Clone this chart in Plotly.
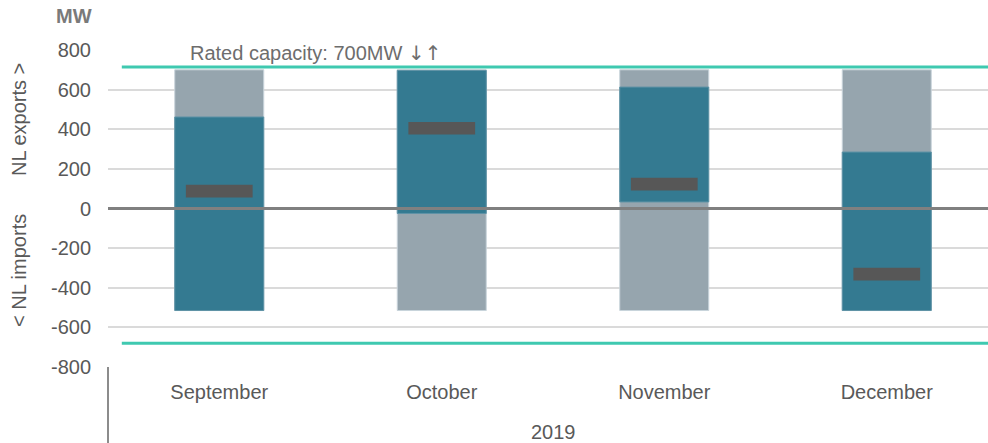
import plotly.graph_objects as go

# Monthly interconnector flow ranges (MW); positive = NL exports, negative = NL imports
months = ["September", "October", "November", "December"]
year_label = "2019"

full_low = [-515, -515, -515, -515]
full_high = [700, 700, 700, 700]
core_low = [-515, -25, 33, -515]
core_high = [462, 697, 613, 285]
average_flow = [88, 405, 123, -331]

rated_capacity = 700
export_limit = 714
import_limit = -680

y_ticks = [-800, -600, -400, -200, 0, 200, 400, 600, 800]

FONT = "Liberation Sans, DejaVu Sans, Arial, sans-serif"
TEXT = "#595959"
x_pos = list(range(len(months)))

W, H = 988, 443
ML, MR, MT, MB = 108, 0, 50, 76
PW, PH = W - ML - MR, H - MT - MB


def px(x):
    return (x - ML) / PW


def py(y):
    return 1 - (y - MT) / PH


fig = go.Figure()

fig.add_trace(go.Bar(
    x=x_pos, base=full_low, y=[h - l for h, l in zip(full_high, full_low)],
    width=0.4, marker=dict(color="#96a5ae", line=dict(color="#c9d4db", width=1)),
    hoverinfo="skip", showlegend=False,
))
fig.add_trace(go.Bar(
    x=x_pos, base=core_low, y=[h - l for h, l in zip(core_high, core_low)],
    width=0.4, marker=dict(color="#347a91", line=dict(color="#5f93a6", width=1)),
    hoverinfo="skip", showlegend=False,
))
# average flow drawn as a short thick band centred on each value
band = 32
fig.add_trace(go.Bar(
    x=x_pos, base=[v - band for v in average_flow], y=[2 * band] * len(average_flow),
    width=0.3, marker=dict(color="#575757", line=dict(width=0)),
    hoverinfo="skip", showlegend=False,
))

# capacity limit lines
x_left, x_right = -0.438, 3.455
for lvl in (export_limit, import_limit):
    fig.add_trace(go.Scatter(
        x=[x_left, x_right], y=[lvl, lvl], mode="lines",
        line=dict(color="#3fc9b0", width=3), hoverinfo="skip", showlegend=False,
    ))

# zero line above the bars
fig.add_shape(type="line", xref="paper", x0=0, x1=1, yref="y", y0=0, y1=0,
              line=dict(color="#808080", width=3), layer="above")
# category axis divider
fig.add_shape(type="line", xref="paper", x0=0, x1=0, yref="paper", y0=0, y1=py(446),
              line=dict(color="#8c8c8c", width=2))

arrows = "<span style='font-family:DejaVu Sans'>\u2193\ufe0e\u2191\ufe0e</span>"
fig.add_annotation(x=-0.14, y=787, xref="x", yref="y", xanchor="left", yanchor="middle",
                   text=f"Rated capacity: {rated_capacity}MW {arrows}", showarrow=False,
                   font=dict(family=FONT, size=20, color="#6d6d6d"))
fig.add_annotation(x=px(74), y=py(16), xref="paper", yref="paper",
                   xanchor="center", yanchor="middle", text="<b>MW</b>",
                   showarrow=False, font=dict(family=FONT, size=20, color="#7a7a7a"))
fig.add_annotation(x=1.5, y=py(432), xref="x", yref="paper", yanchor="middle",
                   text=year_label, showarrow=False,
                   font=dict(family=FONT, size=20, color=TEXT))
fig.add_annotation(x=px(19), y=py(120), xref="paper", yref="paper",
                   xanchor="center", yanchor="middle", text="NL exports >",
                   textangle=-90, showarrow=False,
                   font=dict(family=FONT, size=20, color=TEXT))
fig.add_annotation(x=px(19), y=py(271), xref="paper", yref="paper",
                   xanchor="center", yanchor="middle", text="< NL imports",
                   textangle=-90, showarrow=False,
                   font=dict(family=FONT, size=20, color=TEXT))

fig.update_layout(
    width=W, height=H,
    margin=dict(l=ML, r=MR, t=MT, b=MB),
    paper_bgcolor="white", plot_bgcolor="white",
    barmode="overlay",
    xaxis=dict(range=[-0.5, 3.455], tickvals=x_pos, ticktext=months,
               showgrid=False, zeroline=False, showline=False, ticks="",
               ticklabelstandoff=11,
               tickfont=dict(family=FONT, size=20, color=TEXT)),
    yaxis=dict(range=[-800, 800], tickvals=y_ticks, ticktext=[str(v) for v in y_ticks],
               showgrid=True, gridcolor="#dadada", gridwidth=2,
               zeroline=False, showline=False, ticks="", ticklabelstandoff=16,
               tickfont=dict(family=FONT, size=20, color=TEXT)),
)

fig.write_html("out.html")
